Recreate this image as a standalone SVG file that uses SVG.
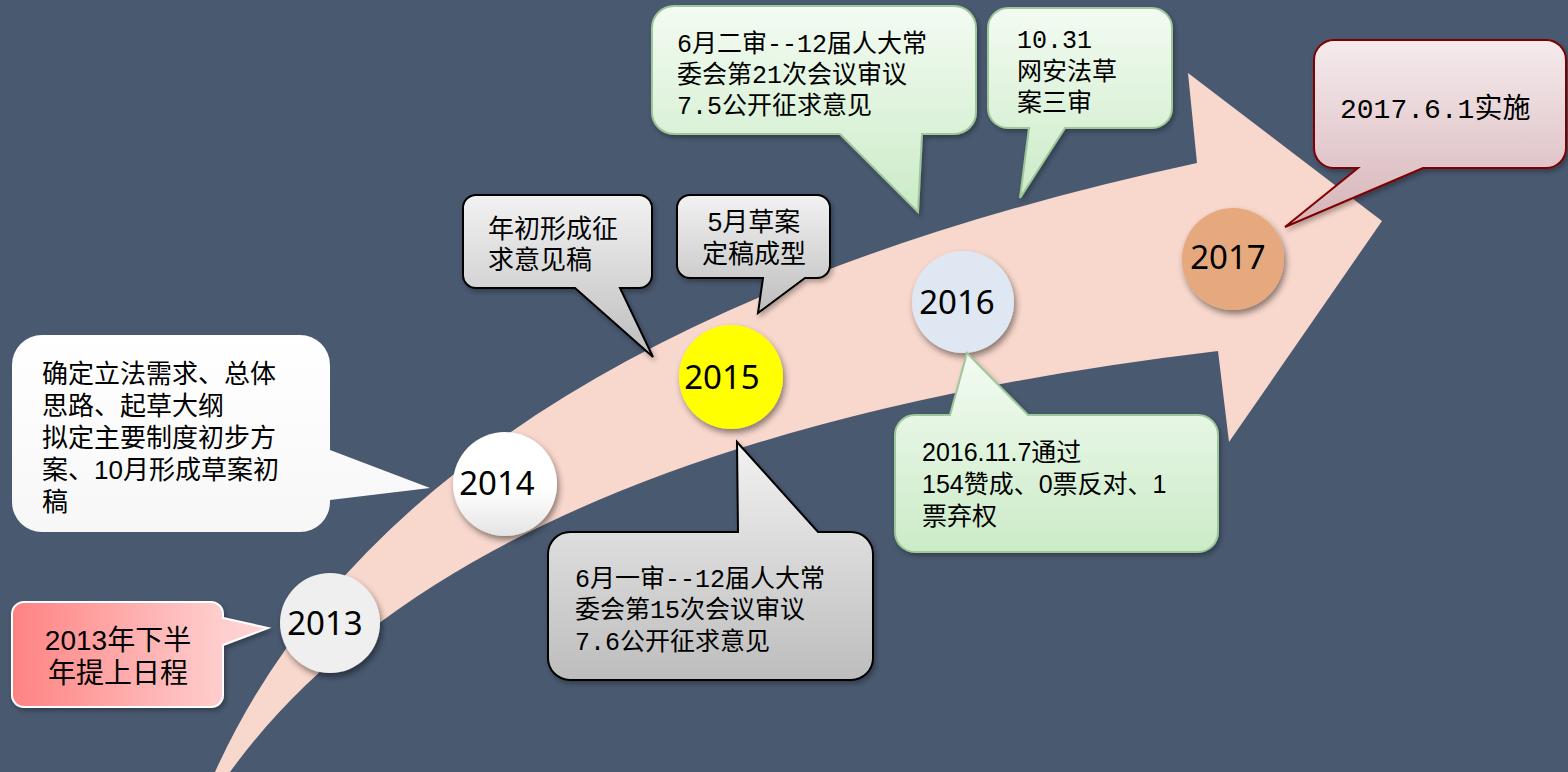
<svg xmlns="http://www.w3.org/2000/svg" width="1568" height="772" viewBox="0 0 1568 772">
<defs>
<style>
.cjk{font-family:"Liberation Sans","Noto Sans CJK SC",sans-serif;fill:#000}
.mono{font-family:"Liberation Mono","Noto Sans CJK SC",monospace;fill:#000}
.sans{font-family:"Liberation Sans","Noto Sans CJK SC",sans-serif;fill:#000}
.yr{font-family:"Noto Sans","Open Sans",sans-serif;font-size:33px;fill:#000;text-anchor:middle}
.gray{fill:url(#gGray);stroke:#000;stroke-width:2}
.green{fill:url(#gGreen);stroke:#9ec79a;stroke-width:2}
</style>
<linearGradient id="gPink" x1="0" y1="0" x2="1" y2="0"><stop offset="0" stop-color="#ff8282"/><stop offset="0.8" stop-color="#ffcccc"/><stop offset="1" stop-color="#ffd6d6"/></linearGradient>
<linearGradient id="gWhite" x1="0" y1="0" x2="0" y2="1"><stop offset="0" stop-color="#ffffff"/><stop offset="1" stop-color="#f7f7f7"/></linearGradient>
<linearGradient id="gGray" x1="0" y1="0" x2="0" y2="1"><stop offset="0" stop-color="#f2f2f2"/><stop offset="1" stop-color="#bdbdbd"/></linearGradient>
<linearGradient id="gGreen" x1="0" y1="0" x2="0" y2="1"><stop offset="0" stop-color="#f3fbf2"/><stop offset="1" stop-color="#cbebc7"/></linearGradient>
<linearGradient id="gRed" x1="0" y1="0" x2="0" y2="1"><stop offset="0" stop-color="#f5ebed"/><stop offset="1" stop-color="#d6b3b8"/></linearGradient>
<linearGradient id="gC2014" x1="0" y1="0" x2="0" y2="1"><stop offset="0" stop-color="#ffffff"/><stop offset="0.55" stop-color="#ffffff"/><stop offset="1" stop-color="#e4e4e4"/></linearGradient>
<filter id="sh" x="-30%" y="-30%" width="160%" height="160%"><feDropShadow dx="2" dy="4" stdDeviation="3" flood-color="#000" flood-opacity="0.45"/></filter>
<filter id="shs" x="-20%" y="-20%" width="140%" height="140%"><feDropShadow dx="2" dy="3" stdDeviation="2.5" flood-color="#000" flood-opacity="0.3"/></filter>
</defs>
<rect width="1568" height="772" fill="#495970"/>

<g id="connectors">
<path d="M215,772 Q414,332 1197,163 L1188,73 L1382,221 L1229,442 L1218,351 Q470,440 230,772 Z" fill="#f8d7cc"/>
</g>

<g id="node-2013">
<circle cx="330" cy="623" r="50" fill="#efefef" filter="url(#sh)"/>
<text class="yr" x="325" y="635">2013</text>
</g>
<g id="node-2014">
<circle cx="505" cy="484" r="52" fill="url(#gC2014)" filter="url(#sh)"/>
<text class="yr" x="497" y="495">2014</text>
</g>
<g id="node-2015">
<circle cx="731" cy="377" r="52" fill="#ffff00" filter="url(#sh)"/>
<text class="yr" x="722" y="389">2015</text>
</g>
<g id="node-2016">
<circle cx="963" cy="302" r="51" fill="#dfe7f3" filter="url(#sh)"/>
<text class="yr" x="957" y="314">2016</text>
</g>
<g id="node-2017">
<circle cx="1233" cy="259" r="51" fill="#e6a97e" filter="url(#sh)"/>
<text class="yr" x="1228" y="269">2017</text>
</g>

<g id="callout-2013">
<path d="M24,602 H211 A12,12 0 0 1 223,614 V618 L268,628 L223,645 V695 A12,12 0 0 1 211,707 H24 A12,12 0 0 1 12,695 V614 A12,12 0 0 1 24,602 Z" fill="url(#gPink)" stroke="#ffffff" stroke-width="2" filter="url(#shs)"/>
<text class="cjk" font-size="28" text-anchor="middle"><tspan x="118" y="650">2013年下半</tspan><tspan x="118" y="683">年提上日程</tspan></text>
</g>

<g id="callout-2014">
<path d="M42,335 H300 A30,30 0 0 1 330,365 V450 L430,488 L330,500 V502 A30,30 0 0 1 300,532 H42 A30,30 0 0 1 12,502 V365 A30,30 0 0 1 42,335 Z" fill="url(#gWhite)"/>
<text class="cjk" font-size="26"><tspan x="42" y="383">确定立法需求、总体</tspan><tspan x="42" y="415">思路、起草大纲</tspan><tspan x="42" y="447">拟定主要制度初步方</tspan><tspan x="42" y="479">案、10月形成草案初</tspan><tspan x="42" y="511">稿</tspan></text>
</g>

<g id="callout-2015a">
<path class="gray" d="M476,195 H639 A13,13 0 0 1 652,208 V275 A13,13 0 0 1 639,288 H620 L653,357 L575,288 H476 A13,13 0 0 1 463,275 V208 A13,13 0 0 1 476,195 Z" filter="url(#shs)"/>
<text class="cjk" font-size="26"><tspan x="488" y="238">年初形成征</tspan><tspan x="488" y="269">求意见稿</tspan></text>
</g>

<g id="callout-2015b">
<path class="gray" d="M690,195 H817 A13,13 0 0 1 830,208 V265 A13,13 0 0 1 817,278 H805 L758,313 L763,278 H690 A13,13 0 0 1 677,265 V208 A13,13 0 0 1 690,195 Z" filter="url(#shs)"/>
<text class="cjk" font-size="26" text-anchor="middle"><tspan x="754" y="231">5月草案</tspan><tspan x="754" y="263">定稿成型</tspan></text>
</g>

<g id="callout-2015c">
<path class="gray" d="M570,532 H738 L737,442 L818,532 H851 A22,22 0 0 1 873,554 V658 A22,22 0 0 1 851,680 H570 A22,22 0 0 1 548,658 V554 A22,22 0 0 1 570,532 Z" filter="url(#shs)"/>
<text class="mono" font-size="25"><tspan x="575" y="587">6月一审--12届人大常</tspan><tspan x="575" y="618">委会第15次会议审议</tspan><tspan x="575" y="650">7.6公开征求意见</tspan></text>
</g>

<g id="callout-2016a">
<path class="green" d="M674,6 H954 A22,22 0 0 1 976,28 V112 A22,22 0 0 1 954,134 H922 L918,212 L840,134 H674 A22,22 0 0 1 652,112 V28 A22,22 0 0 1 674,6 Z" filter="url(#shs)"/>
<text class="mono" font-size="25"><tspan x="677" y="52">6月二审--12届人大常</tspan><tspan x="677" y="83">委会第21次会议审议</tspan><tspan x="677" y="114">7.5公开征求意见</tspan></text>
</g>

<g id="callout-2016b">
<path class="green" d="M1008,8 H1152 A20,20 0 0 1 1172,28 V108 A20,20 0 0 1 1152,128 H1065 L1020,198 L1029,128 H1008 A20,20 0 0 1 988,108 V28 A20,20 0 0 1 1008,8 Z" filter="url(#shs)"/>
<text class="mono" font-size="25"><tspan x="1017" y="48">10.31</tspan><tspan x="1017" y="80">网安法草</tspan><tspan x="1017" y="111">案三审</tspan></text>
</g>

<g id="callout-2016c">
<path class="green" d="M915,415 H950 L967,353 L1028,415 H1198 A20,20 0 0 1 1218,435 V532 A20,20 0 0 1 1198,552 H915 A20,20 0 0 1 895,532 V435 A20,20 0 0 1 915,415 Z" filter="url(#shs)"/>
<text class="sans" font-size="25"><tspan x="922" y="461">2016.11.7通过</tspan><tspan x="922" y="493">154赞成、0票反对、1</tspan><tspan x="922" y="525">票弃权</tspan></text>
</g>

<g id="callout-2017">
<path d="M1334,40 H1546 A20,20 0 0 1 1566,60 V148 A20,20 0 0 1 1546,168 H1423 L1285,227 L1358,168 H1334 A20,20 0 0 1 1314,148 V60 A20,20 0 0 1 1334,40 Z" fill="url(#gRed)" stroke="#7f0000" stroke-width="2" filter="url(#shs)"/>
<text class="mono" font-size="28" x="1340" y="118">2017.6.1实施</text>
</g>
</svg>
